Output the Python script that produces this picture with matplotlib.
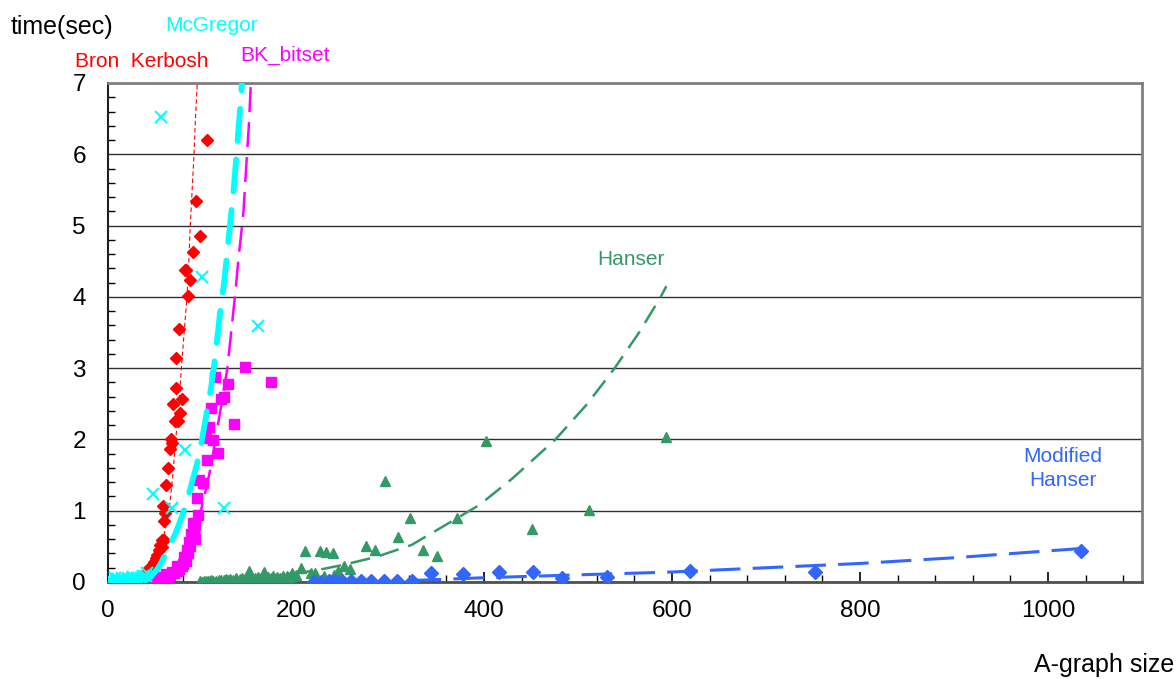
import matplotlib
matplotlib.use("Agg")
import matplotlib.pyplot as plt
from matplotlib.ticker import MultipleLocator

plt.rcParams['font.family'] = ['Liberation Sans', 'DejaVu Sans']

# ---------------- data ----------------
# Bron Kerbosh (red diamonds)
bk_x = [105, 93.4, 97.6, 90, 82, 83.5, 87, 85, 75.5, 72.3, 72.3, 78.7, 69.1, 76.6, 74.5,
        71.3, 67, 68, 66, 64, 62, 58.5, 60.6, 59.6, 57.4, 59.6, 57, 55, 54, 52, 51, 49, 47,
        44, 43, 40, 38, 35, 32, 28, 25]
bk_y = [6.2, 5.34, 4.85, 4.63, 4.38, 4.38, 4.24, 4.01, 3.55, 3.14, 2.72, 2.57, 2.50, 2.37, 2.26,
        2.26, 2.01, 1.95, 1.87, 1.60, 1.36, 1.07, 0.97, 0.86, 0.59, 0.59, 0.49, 0.52, 0.45, 0.38,
        0.33, 0.28, 0.22, 0.2, 0.15, 0.12, 0.07, 0.05, 0.03, 0.02, 0.01]
bk_trend_x = [20, 35, 45, 52, 57, 61, 65, 69, 72, 75.5, 78, 81, 84, 86, 87.5, 89.5, 91.5, 93, 95]
bk_trend_y = [0.0, 0.05, 0.15, 0.3, 0.5, 0.75, 1.0, 1.5, 2.0, 2.5, 3.0, 3.5, 4.0, 4.5, 5.0, 5.5, 6.0, 6.5, 7.0]

# McGregor (cyan crosses)
mc_x = [56.4, 100, 160, 82, 48, 68, 123,
        1, 3, 5, 7, 9, 11, 13, 15, 17, 19, 21, 23, 25, 27, 29, 31, 33, 35, 37, 40, 42]
mc_y = [6.53, 4.28, 3.59, 1.85, 1.23, 1.04, 1.04,
        0.01, 0.03, 0.0, 0.05, 0.02, 0.04, 0.01, 0.06, 0.03, 0.02, 0.05, 0.01, 0.04, 0.07,
        0.03, 0.05, 0.02, 0.06, 0.09, 0.08, 0.12]
mc_trend_x = [38, 45, 52, 57, 62, 67, 72, 77, 82, 88, 94, 99, 104, 109.6, 114, 119, 124, 130,
              134, 137, 140, 142.5]
mc_trend_y = [0.02, 0.07, 0.17, 0.28, 0.42, 0.55, 0.69, 0.86, 1.05, 1.33, 1.62, 1.92, 2.3, 2.72,
              3.15, 3.75, 4.26, 5.03, 5.55, 6.05, 6.55, 7.0]

# BK_bitset (magenta squares)
bb_x = [146, 173, 114, 128, 123, 120, 110, 134, 107, 104, 112, 117, 105, 97, 101, 95, 96, 90,
        91.5, 88, 86, 92.5, 84, 81, 78.5, 73.4, 68, 61.5, 56, 51,
        58, 63, 66, 70, 73, 76, 80, 83, 85, 87, 89, 93]
bb_y = [3.02, 2.8, 2.87, 2.78, 2.6, 2.57, 2.44, 2.22, 2.17, 2.02, 1.99, 1.81, 1.71, 1.43, 1.39,
        1.18, 0.94, 0.83, 0.71, 0.68, 0.56, 0.60, 0.45, 0.35, 0.22, 0.22, 0.14, 0.11, 0.07, 0.04,
        0.05, 0.06, 0.1, 0.12, 0.15, 0.18, 0.25, 0.3, 0.4, 0.5, 0.62, 0.8]
bb_trend_x = [55, 62, 70, 78, 85, 91, 95, 99, 104, 109.5, 116, 121, 127, 131, 135, 139, 144,
              147, 150, 152]
bb_trend_y = [0.0, 0.03, 0.08, 0.18, 0.32, 0.52, 0.72, 1.01, 1.29, 1.62, 2.13, 2.52, 3.0, 3.5,
              4.0, 4.56, 5.17, 5.82, 6.44, 7.0]

# Hanser (green triangles)
ha_x = [98, 100, 102, 104, 106, 108, 110, 112, 115, 118, 120, 123, 126, 128, 130, 133, 136,
        140, 143, 146, 150, 153, 156, 160, 163, 166, 170, 173, 176, 180, 183, 186, 190, 193,
        196, 200, 230, 240,
        150, 166, 196, 205, 210, 216, 220, 225, 232, 239, 245, 251, 257, 274, 284, 295, 308,
        321, 335, 350, 371, 402, 451, 512, 594]
ha_y = [0.01, 0.0, 0.02, 0.01, 0.02, 0.01, 0.03, 0.02, 0.02, 0.03, 0.02, 0.03, 0.04, 0.03,
        0.04, 0.03, 0.05, 0.04, 0.05, 0.04, 0.06, 0.05, 0.05, 0.07, 0.06, 0.05, 0.07, 0.06,
        0.08, 0.07, 0.06, 0.08, 0.09, 0.07, 0.08, 0.1, 0.08, 0.1,
        0.16, 0.14, 0.13, 0.19, 0.43, 0.12, 0.13, 0.44, 0.42, 0.40, 0.16, 0.22, 0.18, 0.51,
        0.45, 1.41, 0.63, 0.90, 0.45, 0.37, 0.90, 1.98, 0.74, 1.01, 2.03]
ha_trend_x = [100, 150, 200, 224, 250, 285, 323, 363, 395, 430, 476, 510, 539, 565, 588, 594]
ha_trend_y = [0.0, 0.05, 0.12, 0.17, 0.24, 0.35, 0.52, 0.83, 1.08, 1.45, 2.0, 2.5, 3.0, 3.5,
              4.0, 4.15]

# Modified Hanser (blue diamonds)
mh_x = [219, 227, 235, 242, 249, 258, 269, 280, 294, 307, 323, 344, 378, 416, 452, 483, 531,
        619, 752, 1035]
mh_y = [0.0, 0.0, 0.01, 0.01, 0.01, 0.01, 0.01, 0.01, 0.02, 0.02, 0.02, 0.12, 0.11, 0.14,
        0.14, 0.06, 0.07, 0.15, 0.14, 0.44]
mh_trend_x = [322, 400, 500, 600, 700, 800, 900, 1035]
mh_trend_y = [0.02, 0.06, 0.10, 0.14, 0.20, 0.26, 0.34, 0.47]

# ---------------- figure ----------------
W, H = 1176, 679
fig = plt.figure(figsize=(W / 100, H / 100), dpi=100)
ax = fig.add_axes([108 / W, 1 - 582 / H, (1142 - 108) / W, (582 - 83) / H])

RED, CYAN, MAG, GREEN, BLUE = '#ff0000', '#00ffff', '#ff00ff', '#339966', '#3366ff'

ax.plot(bk_x, bk_y, ls='none', marker='D', ms=6.5, color=RED, zorder=3)
ax.plot(bb_x, bb_y, ls='none', marker='s', ms=6.5, color=MAG, zorder=3)
ax.plot(ha_x, ha_y, ls='none', marker='^', ms=7.5, color=GREEN, zorder=3)
ax.plot(mh_x, mh_y, ls='none', marker='D', ms=7.5, color=BLUE, zorder=3)

ax.plot(bk_trend_x, bk_trend_y, color=RED, lw=0.8, dashes=(4, 2.5), zorder=4)
ax.plot(mc_trend_x, mc_trend_y, color=CYAN, lw=4.2, dashes=(5.5, 3.2),
        dash_capstyle='round', zorder=4)
ax.plot(bb_trend_x, bb_trend_y, color=MAG, lw=1.8, dashes=(10, 4), zorder=4)
ax.plot(ha_trend_x, ha_trend_y, color=GREEN, lw=1.8, dashes=(8, 4), zorder=4)
ax.plot(mh_trend_x, mh_trend_y, color=BLUE, lw=2.2, dashes=(10, 4), zorder=4)

ax.plot(mc_x, mc_y, ls='none', marker='x', ms=9, mew=1.5, color=CYAN, zorder=5)

ax.set_xlim(0, 1100)
ax.set_ylim(0, 7)
ax.xaxis.set_major_locator(MultipleLocator(200))
ax.xaxis.set_minor_locator(MultipleLocator(40))
ax.yaxis.set_major_locator(MultipleLocator(1))
ax.yaxis.set_minor_locator(MultipleLocator(0.2))
ax.tick_params(axis='both', which='both', direction='in', color='black')
ax.tick_params(axis='x', which='major', length=7, width=1.2, labelsize=17.5, pad=13)
ax.tick_params(axis='x', which='minor', length=5, width=1.0)
ax.tick_params(axis='y', which='major', length=0, labelsize=17.5, pad=16)
ax.tick_params(axis='y', which='minor', length=5, width=1.0)
ax.grid(axis='y', which='major', color='#303030', lw=1.0, zorder=1)
ax.set_axisbelow(True)
for s in ['top', 'right']:
    ax.spines[s].set_color('#808080')
    ax.spines[s].set_linewidth(2)
ax.spines['left'].set_color('#202020')
ax.spines['left'].set_linewidth(1.5)
ax.spines['bottom'].set_color('#505050')
ax.spines['bottom'].set_linewidth(2)


def ftext(x, y, s, **kw):
    fig.text(x / W, 1 - y / H, s, **kw)


ftext(11, 34, 'time(sec)', fontsize=18, va='baseline', ha='left', color='black')
ftext(165, 31, 'McGregor', fontsize=15, va='baseline', ha='left', color=CYAN)
ftext(75, 67, 'Bron  Kerbosh', fontsize=15, va='baseline', ha='left', color=RED)
ftext(240, 61, 'BK_bitset', fontsize=15, va='baseline', ha='left', color=MAG)
ftext(631, 265, 'Hanser', fontsize=15, va='baseline', ha='center', color=GREEN)
ftext(1063, 462, 'Modified', fontsize=15, va='baseline', ha='center', color=BLUE)
ftext(1063, 486, 'Hanser', fontsize=15, va='baseline', ha='center', color=BLUE)
ftext(1174, 672, 'A-graph size', fontsize=18, va='baseline', ha='right', color='black')

fig.savefig('out.png', dpi=100)
